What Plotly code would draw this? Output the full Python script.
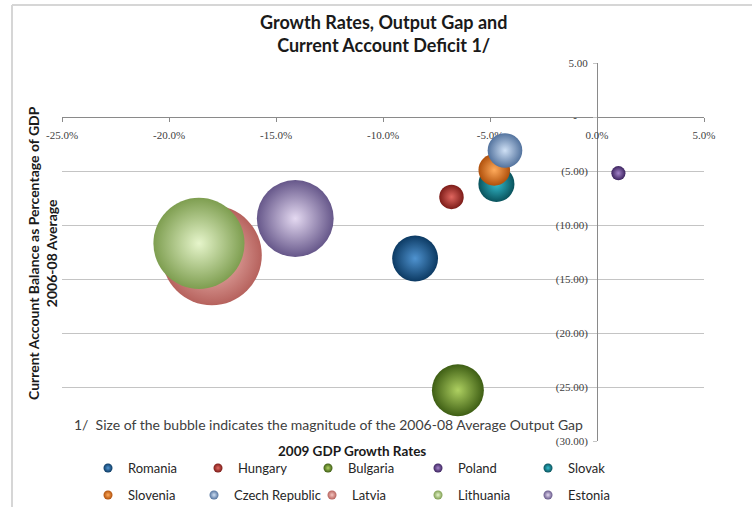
import plotly.graph_objects as go

# --- data -----------------------------------------------------------------
countries = ["Romania", "Hungary", "Bulgaria", "Poland", "Slovak",
             "Slovenia", "Czech Republic", "Latvia", "Lithuania", "Estonia"]
gdp_growth_2009 = [-8.5, -6.8, -6.5, 1.0, -4.7, -4.8, -4.3, -18.0, -18.6, -14.1]   # %
ca_balance_0608 = [-13.1, -7.4, -25.3, -5.2, -6.2, -4.9, -3.1, -12.8, -11.7, -9.4]  # % of GDP
output_gap_0608 = [2.1, 0.6, 2.7, 0.2, 1.3, 1.0, 1.2, 10.0, 8.3, 5.9]              # bubble area

x_tickvals = [-25, -20, -15, -10, -5, 0, 5]
x_ticktext = ["-25.0%", "-20.0%", "-15.0%", "-10.0%", "-5.0%", "0.0%", "5.0%"]
y_tickvals = [5, 0, -5, -10, -15, -20, -25, -30]
y_ticktext = ["5.00", "-\u2007\u2007", "(5.00)", "(10.00)", "(15.00)",
              "(20.00)", "(25.00)", "(30.00)"]

# --- styling ----------------------------------------------------------------
# centre highlight / outer rim of each shaded sphere
light = ["#4f93d0", "#e0665f", "#aed061", "#a282c8", "#33bccd",
         "#ffab5c", "#cfe0f5", "#f6c6c1", "#e6f5cb", "#e4d9f1"]
rim = ["#0c3a63", "#7c1c18", "#3e5e14", "#3d2460", "#09525c",
       "#b0500b", "#53739e", "#b6625d", "#7e9e50", "#66578a"]
# legend text slot widths (px); the long "Czech Republic" label borrows a little room
legend_slot = [74, 74, 74, 74, 74, 70, 82, 70, 74, 74]

X_RANGE = [-25, 5]
Y_RANGE = [-30, 5]
FONT = "Lato"
TICK_FONT = dict(family="Liberation Serif", size=11, color="#404040")
GRID = "#c4c4c4"
AXIS = "#8a8a8a"

max_diam = 100
sizeref = 2.0 * max(output_gap_0608) / max_diam ** 2

fig = go.Figure()

# bubbles, drawn in series order so later countries sit on top
for i, name in enumerate(countries):
    fig.add_trace(go.Scatter(
        x=[gdp_growth_2009[i]], y=[ca_balance_0608[i]],
        mode="markers", name=name, legendgroup=name, showlegend=False,
        marker=dict(size=[output_gap_0608[i]], sizemode="area", sizeref=sizeref,
                    color=rim[i], line=dict(width=0),
                    gradient=dict(type="radial", color=light[i]),
                    opacity=1),
        hovertemplate=name + "<br>GDP growth %{x:.1f}%<br>CA balance %{y:.1f}<extra></extra>",
    ))

# legend swatches, five per row
for i, name in enumerate(countries):
    fig.add_trace(go.Scatter(
        x=[None], y=[None], mode="markers", name=name, legendgroup=name,
        legend="legend" if i < 5 else "legend2", legendwidth=legend_slot[i],
        marker=dict(size=9, color=rim[i], line=dict(width=0),
                    gradient=dict(type="radial", color=light[i])),
    ))

W, H = 752, 507
ML, MR, MT, MB = 62, 48, 63, 66
PW = W - ML - MR
PH = H - MT - MB


def px_x(px):
    return (px - ML) / PW


def px_y(py):
    return (H - MB - py) / PH


legend_common = dict(
    orientation="h", xref="paper", yref="paper", x=px_x(97), xanchor="left",
    yanchor="middle", entrywidth=74, entrywidthmode="pixels", indentation=-9,
    font=dict(family=FONT, size=13, color="#262626"),
    bgcolor="rgba(0,0,0,0)", borderwidth=0, itemsizing="trace",
    traceorder="normal",
)

fig.update_layout(
    width=W, height=H,
    margin=dict(l=ML, r=MR, t=MT, b=MB, pad=0, autoexpand=False),
    paper_bgcolor="white", plot_bgcolor="white",
    font=dict(family=FONT, color="#262626"),
    xaxis=dict(range=X_RANGE, anchor="free",
               position=(0 - Y_RANGE[0]) / (Y_RANGE[1] - Y_RANGE[0]),
               tickvals=x_tickvals, ticktext=x_ticktext, tickfont=TICK_FONT,
               showgrid=False, zeroline=False, showline=True, linecolor=AXIS,
               linewidth=1, ticks="outside", ticklen=4, tickcolor=AXIS,
               ticklabelstandoff=4, layer="below traces", fixedrange=True),
    yaxis=dict(range=Y_RANGE, anchor="free",
               position=(0 - X_RANGE[0]) / (X_RANGE[1] - X_RANGE[0]),
               tickvals=y_tickvals, ticktext=y_ticktext, tickfont=TICK_FONT,
               showgrid=True, gridcolor=GRID, gridwidth=1, zeroline=False,
               showline=True, linecolor=AXIS, linewidth=1,
               ticks="outside", ticklen=4, tickcolor=GRID,
               ticklabelstandoff=3, layer="below traces", fixedrange=True),
    legend=dict(y=px_y(468), **legend_common),
    legend2=dict(y=px_y(495), **legend_common),
    annotations=[
        dict(text="<b>Growth Rates, Output Gap and<br>Current Account Deficit 1/</b>",
             xref="paper", yref="paper", x=0.5, y=px_y(33),
             xanchor="center", yanchor="middle", showarrow=False,
             font=dict(family=FONT, size=18, color="#1a1a1a")),
        dict(text="1/  Size of the bubble indicates the magnitude of the 2006-08 Average Output Gap",
             xref="paper", yref="paper", x=px_x(72), y=px_y(424),
             xanchor="left", yanchor="middle", showarrow=False,
             font=dict(family=FONT, size=14, color="#404040")),
        dict(text="<b>2009 GDP Growth Rates</b>",
             xref="paper", yref="paper", x=px_x(352), y=px_y(451),
             xanchor="center", yanchor="middle", showarrow=False,
             font=dict(family=FONT, size=13.5, color="#1a1a1a")),
        dict(text="<b>Current Account Balance as Percentage of GDP<br>2006-08 Average</b>",
             xref="paper", yref="paper", x=px_x(42), y=px_y(253), textangle=-90,
             xanchor="center", yanchor="middle", showarrow=False,
             font=dict(family=FONT, size=14, color="#1a1a1a")),
    ],
    shapes=[
        dict(type="line", xref="paper", yref="paper",
             x0=px_x(12), x1=px_x(W + 2), y0=px_y(5), y1=px_y(5),
             line=dict(color="#d6d6d6", width=2)),
        dict(type="line", xref="paper", yref="paper",
             x0=px_x(12), x1=px_x(12), y0=px_y(5), y1=px_y(H + 2),
             line=dict(color="#d6d6d6", width=2)),
    ],
    showlegend=True,
)

fig.write_html("out.html")
